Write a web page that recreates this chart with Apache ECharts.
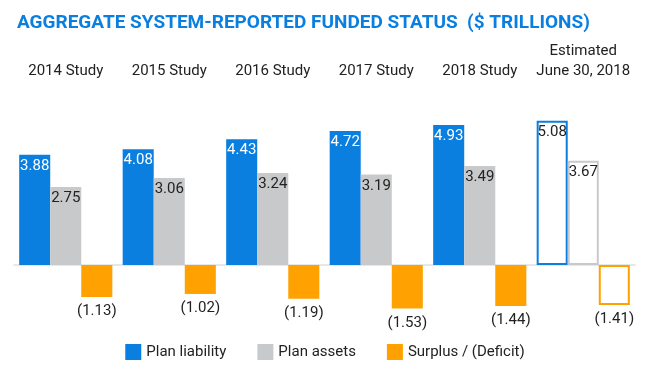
<!DOCTYPE html>
<html><head><meta charset="utf-8">
<script src="https://cdn.jsdelivr.net/npm/echarts@6/dist/echarts.min.js"></script>
<style>html,body{margin:0;padding:0;background:#fff}#c{width:650px;height:380px}</style>
</head><body><div id="c"></div>
<script>
const categories = ['2014 Study', '2015 Study', '2016 Study', '2017 Study', '2018 Study', 'Estimated\nJune 30, 2018'];
const planLiability = [3.88, 4.08, 4.43, 4.72, 4.93, 5.08];
const planAssets = [2.75, 3.06, 3.24, 3.19, 3.49, 3.67];
const surplus = [-1.13, -1.02, -1.19, -1.53, -1.44, -1.41];
const seriesNames = ['Plan liability', 'Plan assets', 'Surplus / (Deficit)'];
const titleText = 'AGGREGATE SYSTEM-REPORTED FUNDED STATUS  ($ TRILLIONS)';

const BLUE = '#0a7fdf', GREY = '#c8c9ca', ORANGE = '#ffa100', TXT = '#222';
const FONT = 'Roboto';
const last = categories.length - 1;

function build(values, color, hollowLabelColor) {
  return values.map((v, i) => i === last
    ? { value: v, itemStyle: { color: '#fff', borderColor: color, borderWidth: 2 }, label: { color: hollowLabelColor } }
    : v);
}

const chart = echarts.init(document.getElementById('c'), null, { renderer: 'canvas' });
chart.setOption({
  animation: false,
  title: {
    text: titleText, left: 12, top: 9,
    textStyle: { color: BLUE, fontFamily: FONT, fontWeight: 'bold', fontSize: 19 }
  },
  legend: {
    bottom: 15, left: 'center', itemWidth: 16, itemHeight: 16, itemGap: 31,
    icon: 'rect',
    textStyle: { color: TXT, fontFamily: FONT, fontSize: 15 },
    data: seriesNames
  },
  grid: { left: 14, right: 15, top: 108.8, height: 213, containLabel: false },
  xAxis: [{
    type: 'category', data: categories, position: 'bottom',
    axisLine: { onZero: true, lineStyle: { color: '#e0e0e0', width: 1.5 } },
    axisTick: { inside: true, length: 4, lineStyle: { color: '#e0e0e0' } },
    axisLabel: { show: false }
  }, {
    type: 'category', data: categories, position: 'top',
    axisLine: { show: false, onZero: false }, axisTick: { show: false },
    axisLabel: { color: TXT, fontFamily: FONT, fontSize: 15, lineHeight: 20, margin: 28, interval: 0 }
  }],
  yAxis: { type: 'value', min: -2, max: 5.5, axisLine: { show: false }, axisTick: { show: false }, axisLabel: { show: false }, splitLine: { show: false } },
  series: [{
    name: seriesNames[0], type: 'bar', xAxisIndex: 0, barCategoryGap: '10%', barGap: '0%',
    itemStyle: { color: BLUE },
    label: { show: true, position: 'insideTop', distance: 4, color: '#fff', fontFamily: FONT, fontSize: 15, formatter: p => p.value.toFixed(2) },
    data: build(planLiability, BLUE, TXT)
  }, {
    name: seriesNames[1], type: 'bar', xAxisIndex: 0, barCategoryGap: '10%', barGap: '0%',
    itemStyle: { color: GREY },
    label: { show: true, position: 'insideTop', distance: 4, color: TXT, fontFamily: FONT, fontSize: 15, formatter: p => p.value.toFixed(2) },
    data: build(planAssets, GREY, TXT)
  }, {
    name: seriesNames[2], type: 'bar', xAxisIndex: 0, barCategoryGap: '10%', barGap: '0%',
    itemStyle: { color: ORANGE },
    label: { show: true, position: 'bottom', distance: 7, color: TXT, fontFamily: FONT, fontSize: 15, formatter: p => '(' + Math.abs(p.value).toFixed(2) + ')' },
    data: build(surplus, ORANGE, TXT)
  }]
});
</script></body></html>
